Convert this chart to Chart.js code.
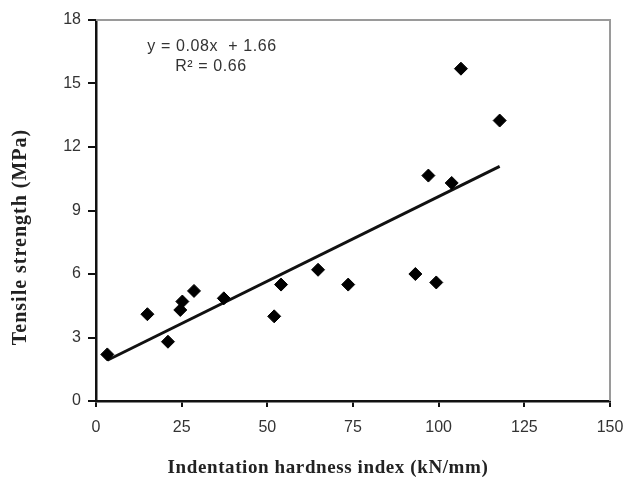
<!DOCTYPE html>
<html>
<head>
<meta charset="utf-8">
<script src="https://cdn.jsdelivr.net/npm/chart.js@4/dist/chart.umd.min.js"></script>
<style>
  html, body { margin: 0; padding: 0; background: #fff; }
  #wrap { width: 625px; height: 477px; position: relative; }
</style>
</head>
<body>
<div id="wrap"><canvas id="myChart" width="625" height="477"></canvas></div>
<script>
// hardness index (kN/mm) and tensile strength (MPa)
var hardness = [3.3, 15.0, 21.0, 24.6, 25.2, 28.6, 37.3, 52.0, 54.0, 64.8, 73.6, 93.2, 97.0, 99.3, 103.8, 106.5, 117.8];
var strength = [2.2, 4.1, 2.8, 4.3, 4.7, 5.2, 4.85, 4.0, 5.5, 6.2, 5.5, 6.0, 10.65, 5.6, 10.3, 15.7, 13.25];

// regression shown on the chart
var slope = 0.08;
var intercept = 1.66;
var eqText = ["y = 0.08x  + 1.66", "R\u00b2 = 0.66"];

var xTitle = "Indentation hardness index (kN/mm)";
var yTitle = "Tensile strength (MPa)";

var points = [];
for (var i = 0; i < hardness.length; i++) {
  points.push({x: hardness[i], y: strength[i]});
}
var xMin = Math.min.apply(null, hardness);
var xMax = Math.max.apply(null, hardness);
var trend = [
  {x: xMin, y: slope * xMin + intercept},
  {x: xMax, y: slope * xMax + intercept}
];

// gray frame on top/right + titles + equation
var extras = {
  id: 'extras',
  beforeDatasetsDraw: function(chart) {
    var a = chart.chartArea, ctx = chart.ctx;
    ctx.save();
    ctx.strokeStyle = '#9a9a9a';
    ctx.lineWidth = 2;
    ctx.beginPath();
    ctx.moveTo(a.left, a.top);
    ctx.lineTo(a.right, a.top);
    ctx.lineTo(a.right, a.bottom);
    ctx.stroke();
    ctx.restore();
  },
  afterDraw: function(chart) {
    var ctx = chart.ctx;
    ctx.save();
    ctx.fillStyle = '#222';
    ctx.textAlign = 'center';
    ctx.textBaseline = 'middle';
    ctx.font = 'bold 19px "Liberation Serif", "Times New Roman", serif';
    ctx.letterSpacing = '0.6px';
    ctx.fillText(xTitle, 328, 468);
    ctx.font = 'bold 20px "Liberation Serif", "Times New Roman", serif';
    ctx.letterSpacing = '1px';
    ctx.translate(21, 237);
    ctx.rotate(-Math.PI / 2);
    ctx.fillText(yTitle, 0, 0);
    ctx.restore();

    ctx.save();
    ctx.fillStyle = '#333';
    ctx.textAlign = 'center';
    ctx.textBaseline = 'middle';
    ctx.font = '16px "Liberation Sans", Arial, sans-serif';
    ctx.letterSpacing = '0.6px';
    ctx.fillText(eqText[0], 212, 47);
    ctx.fillText(eqText[1], 211, 67);
    ctx.restore();
  }
};

new Chart("myChart", {
  type: "scatter",
  data: {
    datasets: [{
      data: points,
      backgroundColor: "#000",
      borderColor: "#000",
      pointStyle: "rectRot",
      pointRadius: 6.5,
      pointHoverRadius: 6.5
    }, {
      type: "line",
      data: trend,
      borderColor: "#111",
      borderWidth: 3,
      pointRadius: 0,
      fill: false
    }]
  },
  plugins: [extras],
  options: {
    responsive: false,
    animation: false,
    devicePixelRatio: 1,
    layout: { padding: { left: 0, top: 20, right: 15, bottom: 0 } },
    plugins: {
      legend: { display: false },
      tooltip: { enabled: false },
      title: { display: false }
    },
    scales: {
      x: {
        type: "linear",
        min: 0, max: 150,
        afterFit: function(s) { s.height = 76; s.paddingRight = 0; s.paddingLeft = 0; },
        border: { color: "#111", width: 2.5 },
        grid: { drawOnChartArea: false, tickLength: 6, color: "#111", lineWidth: 2 },
        ticks: { stepSize: 25, padding: 11, color: "#333", maxRotation: 0,
                 font: { family: '"Liberation Sans", Arial, sans-serif', size: 16 } }
      },
      y: {
        min: 0, max: 18,
        afterFit: function(s) { s.width = 96; },
        border: { color: "#111", width: 2.5 },
        grid: { drawOnChartArea: false, tickLength: 8, color: "#111", lineWidth: 2 },
        ticks: { stepSize: 3, padding: 7, color: "#333",
                 font: { family: '"Liberation Sans", Arial, sans-serif', size: 16 } }
      }
    }
  }
});
</script>
</body>
</html>
